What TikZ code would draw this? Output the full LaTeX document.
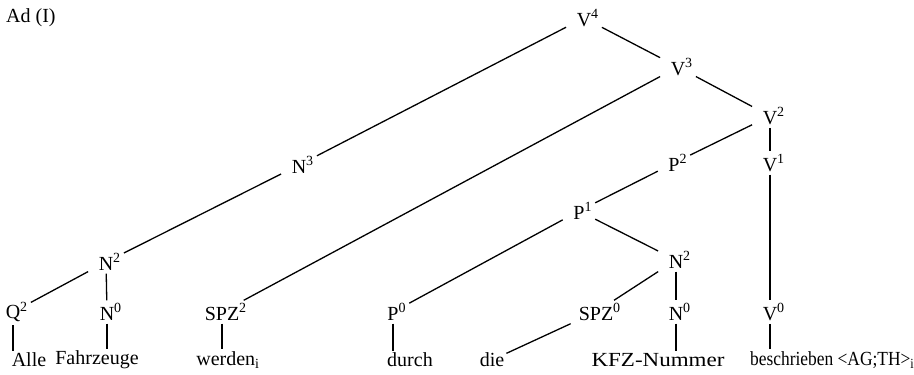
\documentclass[tikz,border=0pt]{standalone}
\usepackage{fontspec}
\setmainfont{Liberation Serif}
\newcommand{\cat}[2]{\phantom{\textsuperscript{#2}}#1\textsuperscript{#2}}
\begin{document}
\begin{tikzpicture}[x=1pt,y=-1pt,
  every node/.style={font=\fontsize{20}{24}\selectfont},
  cn/.style={inner sep=3pt},
  wd/.style={inner sep=2pt},
  ln/.style={line width=1.3pt}]
\useasboundingbox (0,0) rectangle (914,375);
\node[anchor=west,inner sep=0] (title) at (6,18) {Ad (I)};
% category nodes
\node[cn] (V4) at (584,18) {\cat{V}{4}};
\node[cn] (V3) at (678,67) {\cat{V}{3}};
\node[cn] (V2) at (770,116) {\cat{V}{2}};
\node[cn] (V1) at (770,163) {\cat{V}{1}};
\node[cn] (P2) at (674,163) {\cat{P}{2}};
\node[cn] (P1) at (579,211) {\cat{P}{1}};
\node[cn] (N3) at (299,165) {\cat{N}{3}};
\node[cn] (N2a) at (106,262) {\cat{N}{2}};
\node[cn] (N0a) at (107,312) {\cat{N}{0}};
\node[cn] (Q2) at (13,312) {\cat{Q}{2}};
\node[cn] (SPZ2) at (222,312) {\cat{SPZ}{2}};
\node[cn] (P0) at (393,312) {\cat{P}{0}};
\node[cn] (SPZ0) at (596,312) {\cat{SPZ}{0}};
\node[cn] (N2b) at (676,260) {\cat{N}{2}};
\node[cn] (N0b) at (676,312) {\cat{N}{0}};
\node[cn] (V0) at (770,312) {\cat{V}{0}};
% words
\node[wd] (alle) at (29,360) {Alle};
\node[wd] (fahr) at (97,360) {Fahrzeuge};
\node[wd] (werden) at (228,360) {werden\textsubscript{i}};
\node[wd] (durch) at (410,360) {durch};
\node[wd] (die) at (492,360) {die};
\node[wd] (kfz) at (658,360) {\scalebox{1.15}[1]{KFZ-Nummer}};
\node[wd,anchor=west] (besch) at (748,360) {\scalebox{0.87}[1]{beschrieben <AG;TH>\textsubscript{i}}};
% connectors
\draw[ln] (V4) -- (N3);
\draw[ln] (V4) -- (V3);
\draw[ln] (V3) -- (SPZ2);
\draw[ln] (V3) -- (V2);
\draw[ln] (V2) -- (P2);
\draw[ln] (V2) -- (V1);
\draw[ln] (V1) -- (V0);
\draw[ln] (V0) -- (V0 |- besch.north);
\draw[ln] (P2) -- (P1);
\draw[ln] (P1) -- (P0);
\draw[ln] (P1) -- (N2b);
\draw[ln] (N2b) -- (SPZ0);
\draw[ln] (N2b) -- (N0b);
\draw[ln] (N0b) -- (N0b |- kfz.north);
\draw[ln] (SPZ0) -- (die);
\draw[ln] (P0) -- (P0 |- durch.north);
\draw[ln] (SPZ2) -- (SPZ2 |- werden.north);
\draw[ln] (N3) -- (N2a);
\draw[ln] (N2a) -- (Q2);
\draw[ln] (N2a) -- (N0a);
\draw[ln] (N0a) -- (N0a |- fahr.north);
\draw[ln] (Q2) -- (Q2 |- alle.north);
\end{tikzpicture}
\end{document}
